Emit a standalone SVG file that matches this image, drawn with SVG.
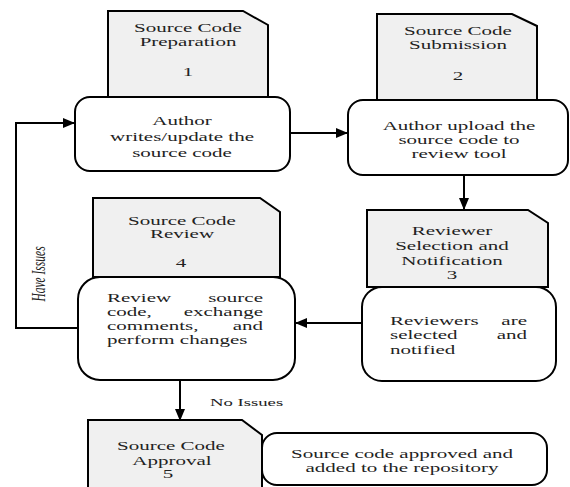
<svg xmlns="http://www.w3.org/2000/svg" width="570" height="487" viewBox="0 0 570 487">
<style>
.doc{fill:#f0f0f0;stroke:#000;stroke-width:2;stroke-linejoin:miter}
.rbox{fill:#fff;stroke:#000;stroke-width:2}
.t{font-family:"Liberation Serif","Times New Roman",serif;font-size:12px;fill:#222}
.m{text-anchor:middle}
.e{text-anchor:end}
.conn{fill:none;stroke:#000;stroke-width:2}
.lbl{font-family:"Liberation Serif","Times New Roman",serif;font-size:11px;fill:#222}
.it{font-family:"Liberation Serif","Times New Roman",serif;font-size:11.5px;font-style:italic;fill:#222;text-anchor:middle}
</style>
<defs>
<marker id="arr" viewBox="0 0 12 10" markerWidth="12" markerHeight="10" refX="12" refY="5" orient="auto" markerUnits="userSpaceOnUse">
<path d="M0,0 L12,5 L0,10 Z" fill="#000"/>
</marker>
</defs>

<g id="connectors">
<line class="conn" x1="290" y1="133" x2="348" y2="133" marker-end="url(#arr)"/>
<line class="conn" x1="464" y1="176" x2="464" y2="210" marker-end="url(#arr)"/>
<line class="conn" x1="362" y1="323" x2="295" y2="323" marker-end="url(#arr)"/>
<polyline class="conn" points="78,328 16,328 16,123 75,123" marker-end="url(#arr)"/>
<line class="conn" x1="180" y1="380" x2="180" y2="421" marker-end="url(#arr)"/>
<text class="it" transform="translate(45,274) rotate(-90) scale(1,1.6)">Have Issues</text>
<text class="lbl" transform="translate(210,406) scale(1.7,1)">No Issues</text>
</g>

<g id="step1">
<path class="doc" d="M108,11 H243 L268,25 V100 H108 Z"/>
<rect class="rbox" x="75" y="97" width="215" height="74" rx="15"/>
<text class="t m" transform="translate(188,32) scale(1.75,1)">Source Code</text>
<text class="t m" transform="translate(188,46) scale(1.75,1)">Preparation</text>
<text class="t m" transform="translate(188,76) scale(1.75,1)">1</text>
<text class="t m" transform="translate(182,125) scale(1.75,1)">Author</text>
<text class="t m" transform="translate(182,141) scale(1.75,1)">writes/update the</text>
<text class="t m" transform="translate(182,157) scale(1.75,1)">source code</text>
</g>

<g id="step2">
<path class="doc" d="M377,14 H512 L537,26 V100 H377 Z"/>
<rect class="rbox" x="348" y="100" width="220" height="75" rx="15"/>
<text class="t m" transform="translate(458,35) scale(1.75,1)">Source Code</text>
<text class="t m" transform="translate(458,49) scale(1.75,1)">Submission</text>
<text class="t m" transform="translate(458,80) scale(1.75,1)">2</text>
<text class="t m" transform="translate(459,130) scale(1.75,1)">Author upload the</text>
<text class="t m" transform="translate(459,144) scale(1.75,1)">source code to</text>
<text class="t m" transform="translate(459,158) scale(1.75,1)">review tool</text>
</g>

<g id="step3">
<path class="doc" d="M367,210 H528 L548,223 V287 H367 Z"/>
<rect class="rbox" x="362" y="287" width="194" height="94" rx="20"/>
<text class="t m" transform="translate(452,235) scale(1.75,1)">Reviewer</text>
<text class="t m" transform="translate(452,250) scale(1.75,1)">Selection and</text>
<text class="t m" transform="translate(452,265) scale(1.75,1)">Notification</text>
<text class="t m" transform="translate(452,279) scale(1.75,1)">3</text>
<text class="t" transform="translate(390,325) scale(1.75,1)">Reviewers</text>
<text class="t e" transform="translate(527,325) scale(1.75,1)">are</text>
<text class="t" transform="translate(390,339) scale(1.75,1)">selected</text>
<text class="t e" transform="translate(527,339) scale(1.75,1)">and</text>
<text class="t" transform="translate(390,354) scale(1.75,1)">notified</text>
</g>

<g id="step4">
<path class="doc" d="M93,198 H260 L280,212 V277 H93 Z"/>
<rect class="rbox" x="78" y="277" width="217" height="103" rx="22"/>
<text class="t m" transform="translate(182,225) scale(1.75,1)">Source Code</text>
<text class="t m" transform="translate(182,238) scale(1.75,1)">Review</text>
<text class="t m" transform="translate(181,267) scale(1.75,1)">4</text>
<text class="t" transform="translate(107,302) scale(1.75,1)">Review</text>
<text class="t e" transform="translate(263,302) scale(1.75,1)">source</text>
<text class="t" transform="translate(107,316) scale(1.75,1)">code,</text>
<text class="t e" transform="translate(263,316) scale(1.75,1)">exchange</text>
<text class="t" transform="translate(107,330) scale(1.75,1)">comments,</text>
<text class="t e" transform="translate(263,330) scale(1.75,1)">and</text>
<text class="t" transform="translate(107,344) scale(1.75,1)">perform changes</text>
</g>

<g id="step5">
<path class="doc" d="M88,420 H242 L262,435 V492 H88 Z"/>
<rect class="rbox" x="262" y="433" width="285" height="52" rx="15"/>
<text class="t m" transform="translate(171,450) scale(1.75,1)">Source Code</text>
<text class="t m" transform="translate(172,465) scale(1.75,1)">Approval</text>
<text class="t m" transform="translate(168,478) scale(1.75,1)">5</text>
<text class="t m" transform="translate(402,458) scale(1.75,1)">Source code approved and</text>
<text class="t m" transform="translate(402,472) scale(1.75,1)">added to the repository</text>
</g>
</svg>
